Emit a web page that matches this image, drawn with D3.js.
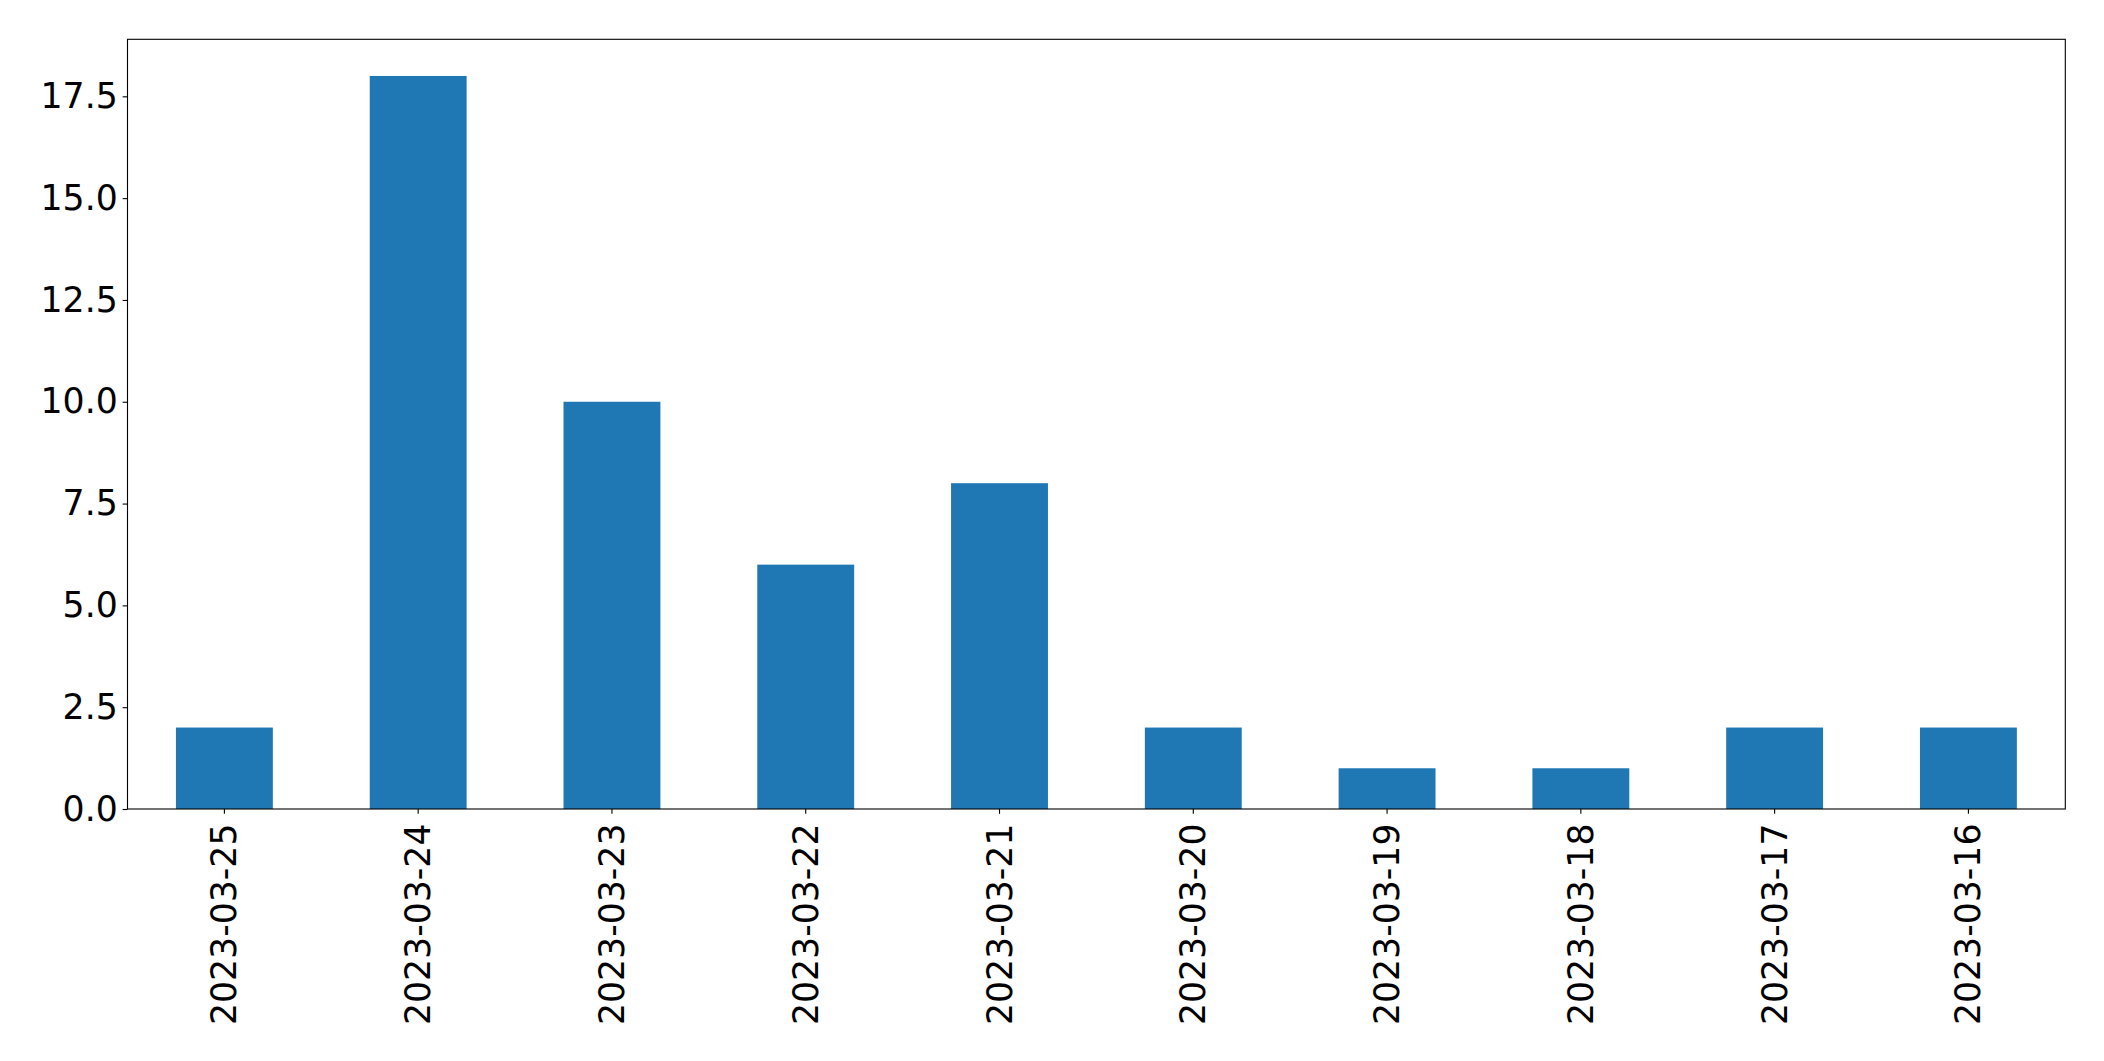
<!DOCTYPE html>
<html><head><meta charset="utf-8">
<script src="https://cdn.jsdelivr.net/npm/d3@7"></script>
<style>body{margin:0;background:#fff}svg{display:block}</style>
</head><body>
<svg id="chart" width="2104" height="1061"></svg>
<script>
const categories = ["2023-03-25","2023-03-24","2023-03-23","2023-03-22","2023-03-21","2023-03-20","2023-03-19","2023-03-18","2023-03-17","2023-03-16"];
const values = [2,18,10,6,8,2,1,1,2,2];
const yTicks = [0,2.5,5,7.5,10,12.5,15,17.5];

(function(){
const svg = d3.select("#chart");
const mLeft = 127.5, mRight = 2065.3, mTop = 39.3, mBottom = 809;
const fontFamily = "DejaVu Sans, sans-serif";
const fs = 34.7;

const x = d3.scaleBand().domain(categories).range([mLeft, mRight]).paddingInner(0.5).paddingOuter(0.25);
const y = d3.scaleLinear().domain([0, d3.max(values) * 1.05]).range([mBottom, mTop]);

svg.append("g").selectAll("rect").data(values).join("rect")
  .attr("x", (d,i) => x(categories[i]))
  .attr("width", x.bandwidth())
  .attr("y", d => y(d))
  .attr("height", d => mBottom - y(d))
  .attr("fill", "#1f77b4");

const yAxis = svg.append("g").attr("transform", `translate(${mLeft},0)`)
  .call(d3.axisLeft(y).tickValues(yTicks).tickFormat(d3.format(".1f")).tickSize(4.86).tickPadding(4.86));
yAxis.select(".domain").remove();
yAxis.selectAll("line").attr("stroke", "#000").attr("stroke-width", 1.1);
yAxis.selectAll("text").attr("font-family", fontFamily).attr("font-size", fs).attr("fill", "#000");

const xAxis = svg.append("g").attr("transform", `translate(0,${mBottom})`)
  .call(d3.axisBottom(x).tickSize(4.86).tickPadding(0));
xAxis.select(".domain").remove();
xAxis.selectAll("line").attr("stroke", "#000").attr("stroke-width", 1.1);
xAxis.selectAll("text")
  .attr("font-family", fontFamily).attr("font-size", fs).attr("fill", "#000")
  .attr("text-anchor", "end")
  .attr("dy", null).attr("y", null)
  .attr("dominant-baseline", "central")
  .attr("transform", "translate(0,14.5) rotate(-90)");

svg.append("rect").attr("x", mLeft).attr("y", mTop).attr("width", mRight-mLeft).attr("height", mBottom-mTop)
  .attr("fill", "none").attr("stroke", "#000").attr("stroke-width", 1.1);
})();
</script>
</body></html>
